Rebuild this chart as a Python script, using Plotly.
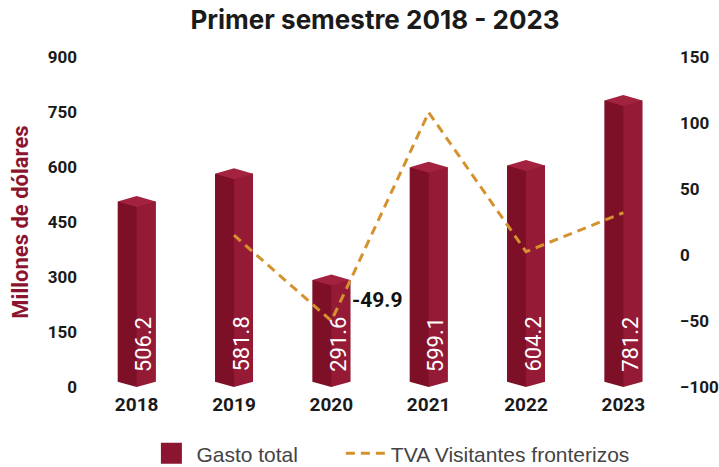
import plotly.graph_objects as go

years = ["2018", "2019", "2020", "2021", "2022", "2023"]
gasto_total = [506.2, 581.8, 291.6, 599.1, 604.2, 781.2]
tva_years = ["2019", "2020", "2021", "2022", "2023"]
tva_visitantes = [15.0, -49.9, 108.0, 2.5, 32.0]
left_ticks = [0, 150, 300, 450, 600, 750, 900]
right_ticks = [-100, -50, 0, 50, 100, 150]

DARK = "#7d0f27"
LIGHT = "#951a36"
CAP = "#a3223f"
LEGEND_BAR = "#8b1530"
LINE = "#d4922f"

xi = list(range(len(years)))
tva_x = [years.index(y) for y in tva_years]
half = 0.195
d = 15  # cap depth in data units

fig = go.Figure()

# full bar (left/dark face)
fig.add_trace(go.Bar(
    x=xi, y=gasto_total, width=2 * half, name="Gasto total", showlegend=False,
    marker=dict(color=DARK, line=dict(width=0)), yaxis="y", hoverinfo="skip",
))
# right (light) face
fig.add_trace(go.Bar(
    x=xi, y=gasto_total, width=half, offset=0, showlegend=False,
    marker=dict(color=LIGHT, line=dict(width=0)), yaxis="y", hoverinfo="skip",
))

# top caps and bottom V cut-outs
for i, v in zip(xi, gasto_total):
    fig.add_trace(go.Scatter(
        x=[i - half, i, i + half, i, i - half],
        y=[v, v + d, v, v - d, v],
        fill="toself", fillcolor=CAP, mode="lines",
        line=dict(width=0, color=CAP), showlegend=False, hoverinfo="skip",
        yaxis="y",
    ))
    fig.add_trace(go.Scatter(
        x=[i - half - 0.01, i - half - 0.01, i, i + half + 0.01, i + half + 0.01, i - half - 0.01],
        y=[-5, d, 0, d, -5, -5],
        fill="toself", fillcolor="white", mode="lines",
        line=dict(width=0, color="white"), showlegend=False, hoverinfo="skip",
        yaxis="y",
    ))

# legend entry for bars
fig.add_trace(go.Scatter(
    x=[None], y=[None], mode="markers", name="Gasto total", legend="legend",
    marker=dict(symbol="square", size=16, color=LEGEND_BAR,
                line=dict(color=LEGEND_BAR, width=5)),
    yaxis="y",
))

fig.add_trace(go.Scatter(
    x=tva_x, y=tva_visitantes, mode="lines", name="TVA Visitantes fronterizos",
    legend="legend2",
    line=dict(color=LINE, width=3, dash="9px,6px"), yaxis="y2",
    hoverinfo="skip",
))

# value labels inside bars
for i, v in zip(xi, gasto_total):
    fig.add_annotation(
        x=i, y=0, xref="x", yref="y", text=f"{v:.1f}", showarrow=False,
        textangle=-90, xanchor="center", yanchor="bottom",
        xshift=7, yshift=13,
        font=dict(size=22, color="white", family="Roboto"),
    )

i2020 = tva_years.index("2020")
fig.add_annotation(
    x=tva_x[i2020], y=tva_visitantes[i2020], xref="x", yref="y2",
    text=f"<b>{tva_visitantes[i2020]:.1f}</b>", showarrow=False,
    xanchor="left", yanchor="middle", xshift=19, yshift=21,
    font=dict(size=21, color="#111111", family="Roboto"),
)

ytickfont = dict(size=17, color="#1a1a1a", family="Roboto", weight="bold")
xtickfont = dict(size=19, color="#1a1a1a", family="Roboto", weight="bold")
legfont = dict(size=21, color="#444444", family="Liberation Sans")

fig.update_layout(
    width=719, height=467,
    margin=dict(l=88, r=47, t=57, b=80, autoexpand=False),
    paper_bgcolor="white", plot_bgcolor="white",
    barmode="overlay",
    title=dict(text="<b>Primer semestre 2018 - 2023</b>", x=0.5216, xanchor="center",
               y=0.957, yanchor="middle", yref="container",
               font=dict(size=26, color="#1a1a1a", family="Inter")),
    xaxis=dict(
        tickmode="array", tickvals=xi, ticktext=years, range=[-0.5, 5.5],
        showgrid=False, zeroline=False, showline=False, ticks="",
        tickfont=xtickfont, automargin=False, ticklabelstandoff=4,
    ),
    yaxis=dict(
        range=[0, 900], tickvals=left_ticks, showgrid=False, zeroline=False,
        showline=False, ticks="", tickfont=ytickfont, ticklabelstandoff=10,
        automargin=False,
        title=dict(text="<b>Millones de dólares</b>", standoff=13,
                   font=dict(size=22, color="#8b1530", family="Roboto")),
    ),
    yaxis2=dict(
        range=[-100, 150], tickvals=right_ticks, overlaying="y", side="right",
        showgrid=False, zeroline=False, showline=False, ticks="",
        tickfont=ytickfont, ticklabelstandoff=7, automargin=False,
    ),
    legend=dict(orientation="h", x=0.1, xanchor="left", y=-0.14, yanchor="top",
                font=legfont, itemwidth=40),
    legend2=dict(orientation="h", x=0.433, xanchor="left", y=-0.14, yanchor="top",
                 font=legfont, itemwidth=40),
    showlegend=True,
)

fig.write_html("out.html", post_script="document.body.style.margin='0';",
               config={"displayModeBar": False})
